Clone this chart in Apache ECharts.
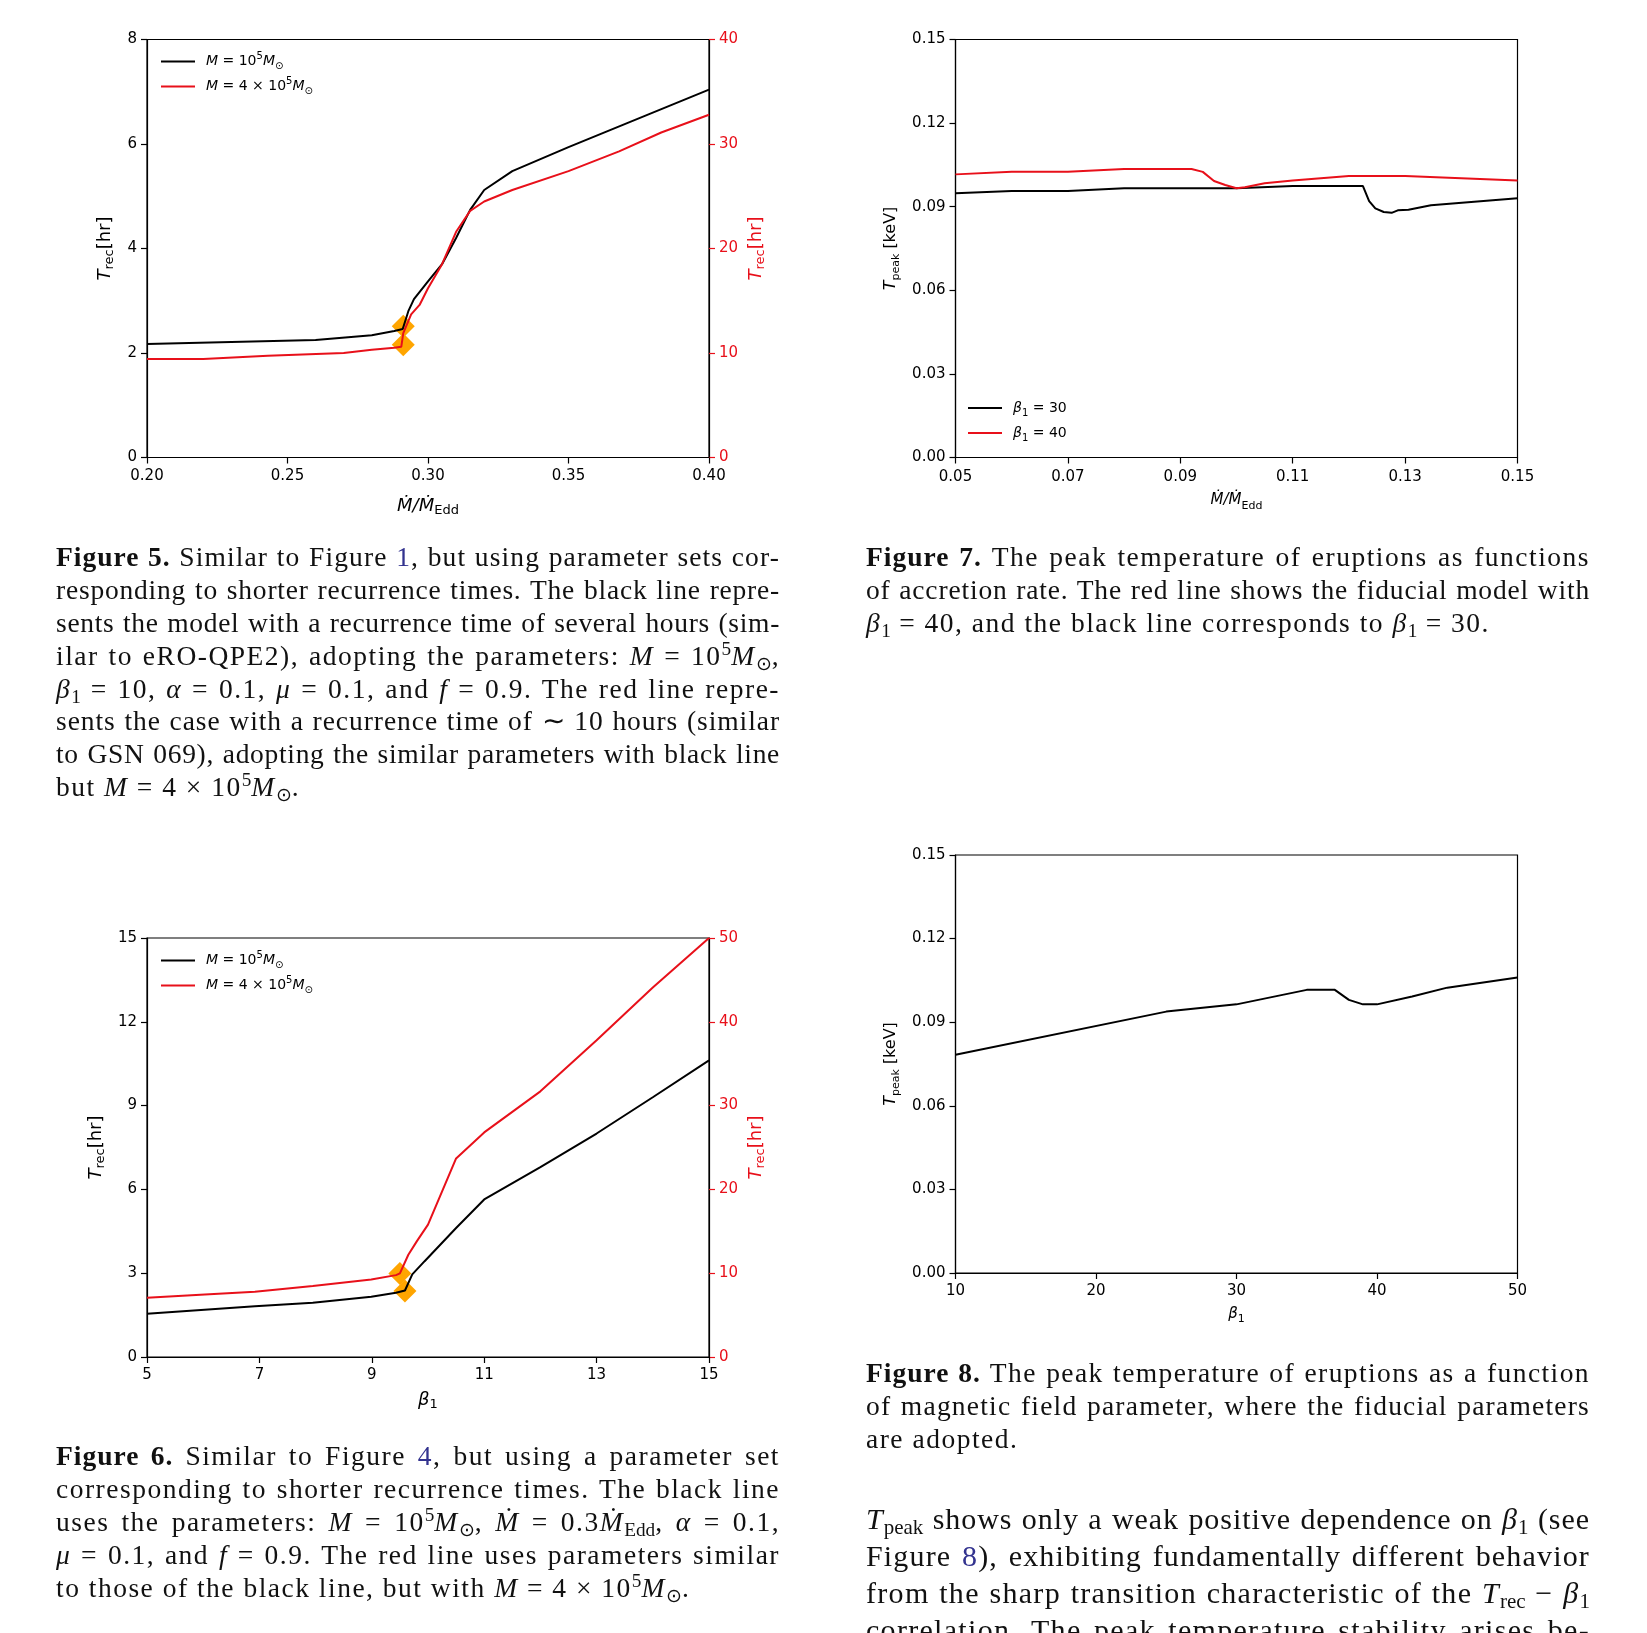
<!DOCTYPE html>
<html><head><meta charset="utf-8">
<script src="https://cdn.jsdelivr.net/npm/echarts@6/dist/echarts.min.js"></script>
<style>
html,body{margin:0;padding:0;background:#fff;width:1647px;height:1633px;overflow:hidden;}
#chart{position:absolute;left:0;top:0;width:1647px;height:1633px;}
.cap{position:absolute;width:724px;font-family:"Liberation Serif",serif;font-size:27.5px;color:#111;letter-spacing:1.5px;}
.cap .l{height:32.9px;line-height:32.9px;white-space:nowrap;text-align:justify;text-align-last:justify;}
.cap .l.last{text-align-last:left;}
.body{font-size:30px;letter-spacing:1.3px;}
.body .l{height:37px;line-height:37px;}
.cap b{font-weight:bold;letter-spacing:1px;}
.cap sup,.cap sub{font-size:70%;line-height:0;letter-spacing:0;}
.cap sup{vertical-align:0.5em;}
.cap sub{vertical-align:-0.25em;}
.lk{color:#33338f;}
</style>
</head><body>
<div id="chart"></div>

<div class="cap" style="left:56px;top:541px;">
<div class="l"><b>Figure 5.</b> Similar to Figure <span class="lk">1</span>, but using parameter sets cor-</div>
<div class="l">responding to shorter recurrence times. The black line repre-</div>
<div class="l">sents the model with a recurrence time of several hours (sim-</div>
<div class="l">ilar to eRO-QPE2), adopting the parameters: <i>M</i> = 10<sup>5</sup><i>M</i><sub>⊙</sub>,</div>
<div class="l"><i>β</i><sub>1</sub> = 10, <i>α</i> = 0.1, <i>μ</i> = 0.1, and <i>f</i> = 0.9. The red line repre-</div>
<div class="l">sents the case with a recurrence time of ∼ 10 hours (similar</div>
<div class="l">to GSN 069), adopting the similar parameters with black line</div>
<div class="l last">but <i>M</i> = 4 × 10<sup>5</sup><i>M</i><sub>⊙</sub>.</div>
</div>

<div class="cap" style="left:866px;top:541px;">
<div class="l"><b>Figure 7.</b> The peak temperature of eruptions as functions</div>
<div class="l">of accretion rate. The red line shows the fiducial model with</div>
<div class="l last"><i>β</i><sub>1</sub> = 40, and the black line corresponds to <i>β</i><sub>1</sub> = 30.</div>
</div>

<div class="cap" style="left:56px;top:1440px;">
<div class="l"><b>Figure 6.</b> Similar to Figure <span class="lk">4</span>, but using a parameter set</div>
<div class="l">corresponding to shorter recurrence times. The black line</div>
<div class="l">uses the parameters: <i>M</i> = 10<sup>5</sup><i>M</i><sub>⊙</sub>, <i>M&#775;</i> = 0.3<i>M&#775;</i><sub>Edd</sub>, <i>α</i> = 0.1,</div>
<div class="l"><i>μ</i> = 0.1, and <i>f</i> = 0.9. The red line uses parameters similar</div>
<div class="l last">to those of the black line, but with <i>M</i> = 4 × 10<sup>5</sup><i>M</i><sub>⊙</sub>.</div>
</div>

<div class="cap" style="left:866px;top:1357px;">
<div class="l"><b>Figure 8.</b> The peak temperature of eruptions as a function</div>
<div class="l">of magnetic field parameter, where the fiducial parameters</div>
<div class="l last">are adopted.</div>
</div>

<div class="cap body" style="left:866px;top:1500px;">
<div class="l"><i>T</i><sub>peak</sub> shows only a weak positive dependence on <i>β</i><sub>1</sub> (see</div>
<div class="l">Figure <span class="lk">8</span>), exhibiting fundamentally different behavior</div>
<div class="l">from the sharp transition characteristic of the <i>T</i><sub>rec</sub> − <i>β</i><sub>1</sub></div>
<div class="l">correlation. The peak temperature stability arises be-</div>
</div>

<script>
// ---------- DATA ----------
// Figure 5: T_rec vs Mdot/Mdot_Edd
const fig5BlackX = [0.200,0.230,0.260,0.280,0.288,0.291,0.293,0.295,0.300,0.305,0.310,0.315,0.320,0.330,0.350,0.400];
const fig5BlackY = [2.17,2.21,2.25,2.34,2.42,2.46,2.80,3.03,3.37,3.70,4.20,4.74,5.12,5.48,5.94,7.04];
const fig5RedX = [0.200,0.220,0.243,0.270,0.280,0.288,0.2905,0.2912,0.294,0.297,0.300,0.305,0.310,0.315,0.320,0.330,0.350,0.368,0.383,0.400];
const fig5RedY = [9.42,9.42,9.74,10.0,10.3,10.5,10.6,11.9,13.7,14.6,16.2,18.5,21.6,23.6,24.5,25.6,27.4,29.3,31.1,32.8];
const fig5MarkBlack = [0.2912, 2.51];
const fig5MarkRed = [0.2912, 10.8];
const fig5XTicks = [0.20,0.25,0.30,0.35,0.40];

// Figure 7: T_peak vs Mdot/Mdot_Edd
const fig7BlackX = [0.050,0.060,0.070,0.080,0.100,0.110,0.1225,0.1236,0.1247,0.1262,0.1276,0.1287,0.1306,0.1346,0.150];
const fig7BlackY = [0.0948,0.0956,0.0956,0.0966,0.0966,0.0974,0.0974,0.0920,0.0894,0.0881,0.0878,0.0887,0.0889,0.0905,0.0930];
const fig7RedX = [0.050,0.060,0.070,0.080,0.092,0.094,0.096,0.098,0.100,0.1015,0.105,0.110,0.120,0.130,0.140,0.150];
const fig7RedY = [0.1016,0.1025,0.1025,0.1035,0.1035,0.1025,0.0992,0.0978,0.0966,0.0970,0.0984,0.0994,0.1010,0.1010,0.1002,0.0994];
const fig7XTicks = [0.05,0.07,0.09,0.11,0.13,0.15];

// Figure 6: T_rec vs beta_1
const fig6BlackX = [5,6.92,7.95,8.99,9.43,9.59,9.72,9.94,10.5,11,12,13,14,15];
const fig6BlackY = [1.55,1.82,1.94,2.16,2.30,2.38,2.96,3.43,4.62,5.64,6.8,8.0,9.3,10.62];
const fig6RedX = [5,6.03,6.92,7.95,8.99,9.43,9.5,9.65,9.8,10.0,10.5,11.0,12,13,14,15];
const fig6RedY = [7.07,7.47,7.79,8.46,9.26,9.77,9.97,12.2,13.8,15.8,23.7,26.8,31.7,37.8,44.1,50];
const fig6MarkRed = [9.50, 9.97];
const fig6MarkBlack = [9.59, 2.36];
const fig6XTicks = [5,7,9,11,13,15];

// Figure 8: T_peak vs beta_1
const fig8X = [10,25,30,35,37,38,39,40,42.5,45,50];
const fig8Y = [0.0783,0.0938,0.0964,0.1016,0.1016,0.0980,0.0964,0.0964,0.0992,0.1024,0.1060];
const fig8XTicks = [10,20,30,40,50];

const legendLabels = {
  f5b: '{i|M}{n| = 10}{sp|5}{i|M}{sb|⊙}',
  f5r: '{i|M}{n| = 4 × 10}{sp|5}{i|M}{sb|⊙}',
  f6b: '{i|M}{n| = 10}{sp|5}{i|M}{sb|⊙}',
  f6r: '{i|M}{n| = 4 × 10}{sp|5}{i|M}{sb|⊙}',
  f7b: '{i|β}{sb|1}{n| = 30}',
  f7r: '{i|β}{sb|1}{n| = 40}'
};

// ---------- caption line fitting (text stays real text) ----------
function fitLines() {
  document.querySelectorAll('.cap .l').forEach(el => {
    const isLast = el.classList.contains('last');
    el.style.letterSpacing = '';
    el.style.textAlignLast = 'left';
    let span = el.querySelector(':scope > span.m');
    if (!span) {
      span = document.createElement('span');
      span.className = 'm';
      while (el.firstChild) span.appendChild(el.firstChild);
      el.appendChild(span);
    }
    const w = span.getBoundingClientRect().width;
    const target = el.clientWidth;
    if (!isLast && w > target - 6) {
      const n = span.textContent.length;
      const ls = parseFloat(getComputedStyle(el).letterSpacing) || 0;
      el.style.letterSpacing = (ls - (w - target + 10) / n) + 'px';
    }
    if (!isLast) el.style.textAlignLast = 'justify';
  });
}
fitLines();
if (document.fonts && document.fonts.ready) document.fonts.ready.then(fitLines);

// ---------- STYLE ----------
const F = 'DejaVu Sans';
const BLACK = '#000000', RED = '#e8101a', ORANGE = '#FFA500';
function rich(size, color, lh) {
  const s = Math.round(size * 0.7);
  return {
    n:  {fontFamily:F, fontSize:size, color:color, lineHeight:lh},
    i:  {fontFamily:F, fontSize:size, color:color, lineHeight:lh, fontStyle:'italic'},
    sb: {fontFamily:F, fontSize:s, color:color, lineHeight:Math.round(lh/2), verticalAlign:'bottom'},
    sp: {fontFamily:F, fontSize:s, color:color, lineHeight:Math.round(lh/2), verticalAlign:'top'}
  };
}
function zip(a, b) { return a.map((v, k) => [v, b[k]]); }
function fmt(d) { return v => (+v).toFixed(d); }

function xAxisCfg(grid, min, max, ticks, dec, name, nsize, gap, margin) {
  return {
    type:'value', gridIndex:grid, min:min, max:max,
    splitLine:{show:false},
    axisLine:{show:true, onZero:false, lineStyle:{color:BLACK, width:1.2}},
    axisTick:{show:true, inside:false, length:6, lineStyle:{color:BLACK, width:1.2}, customValues:ticks},
    axisLabel:{customValues:ticks, formatter:fmt(dec), fontFamily:F, fontSize:15, color:BLACK, margin:margin},
    name:name, nameLocation:'middle', nameGap:gap,
    nameTextStyle:{rich:rich(nsize, BLACK, 22), fontFamily:F, fontSize:nsize, lineHeight:22}
  };
}
function yAxisCfg(grid, min, max, interval, dec, pos, color, name, nsize, gap) {
  return {
    type:'value', gridIndex:grid, min:min, max:max, interval:interval, position:pos,
    splitLine:{show:false},
    axisLine:{show:true, onZero:false, lineStyle:{color:BLACK, width:1.2}},
    axisTick:{show:true, inside:false, length:6, lineStyle:{color:color, width:1.2}},
    axisLabel:{formatter:fmt(dec), fontFamily:F, fontSize:15, color:color, margin:10},
    name:name, nameLocation:'middle', nameGap:gap, nameRotate:90,
    nameTextStyle:{rich:rich(nsize, color, 22), fontFamily:F, fontSize:nsize, lineHeight:22}
  };
}
function lineSeries(name, xi, yi, xs, ys, color) {
  return {
    name:name, type:'line', xAxisIndex:xi, yAxisIndex:yi, data:zip(xs, ys),
    symbol:'none', showSymbol:false, smooth:false, z:3,
    color:color, itemStyle:{color:color},
    lineStyle:{color:color, width:2}
  };
}
function marker(xi, yi, pt) {
  return {
    type:'scatter', xAxisIndex:xi, yAxisIndex:yi, data:[pt],
    symbol:'diamond', symbolSize:23, z:1, silent:true,
    itemStyle:{color:ORANGE, opacity:1}
  };
}
function legendCfg(left, top, names) {
  return {
    orient:'vertical', left:left, top:top, itemWidth:34, itemHeight:2, icon:'rect',
    itemGap:5, data:names, selectedMode:false,
    formatter:n => legendLabels[n],
    textStyle:{rich:rich(14, BLACK, 20), fontFamily:F, fontSize:14, lineHeight:20, padding:[0,0,0,6]}
  };
}

const chart = echarts.init(document.getElementById('chart'), null, {renderer:'canvas'});
const gridStyle = {show:true, borderColor:BLACK, borderWidth:1.2, backgroundColor:'transparent', containLabel:false};

const NAME_TREC = '{i|T}{sb|rec}{n|[hr]}';
const NAME_MDOT = '{i|Ṁ/Ṁ}{sb|Edd}';
const NAME_TPEAK = '{i|T}{sb|peak}{n| [keV]}';
const NAME_BETA = '{i|β}{sb|1}';

chart.setOption({
  animation:false,
  backgroundColor:'#ffffff',
  grid:[
    Object.assign({left:147, top:39.5, width:562, height:418}, gridStyle),
    Object.assign({left:955.5, top:39.5, width:562, height:418}, gridStyle),
    Object.assign({left:147, top:938, width:562, height:419}, gridStyle),
    Object.assign({left:955.5, top:855, width:562, height:418}, gridStyle)
  ],
  xAxis:[
    xAxisCfg(0, 0.2, 0.4, fig5XTicks, 2, NAME_MDOT, 18, 38, 11),
    xAxisCfg(1, 0.05, 0.15, fig7XTicks, 2, NAME_MDOT, 15, 32, 12),
    xAxisCfg(2, 5, 15, fig6XTicks, 0, NAME_BETA, 18, 32, 11),
    xAxisCfg(3, 10, 50, fig8XTicks, 0, NAME_BETA, 15, 30, 11)
  ],
  yAxis:[
    yAxisCfg(0, 0, 8, 2, 0, 'left', BLACK, NAME_TREC, 18, 31),
    yAxisCfg(0, 0, 40, 10, 0, 'right', RED, NAME_TREC, 18, 36),
    yAxisCfg(1, 0, 0.15, 0.03, 2, 'left', BLACK, NAME_TPEAK, 16, 54),
    yAxisCfg(2, 0, 15, 3, 0, 'left', BLACK, NAME_TREC, 18, 40),
    yAxisCfg(2, 0, 50, 10, 0, 'right', RED, NAME_TREC, 18, 36),
    yAxisCfg(3, 0, 0.15, 0.03, 2, 'left', BLACK, NAME_TPEAK, 16, 54)
  ],
  legend:[
    legendCfg(156, 46.5, ['f5b','f5r']),
    legendCfg(963, 393, ['f7b','f7r']),
    legendCfg(156, 945.5, ['f6b','f6r'])
  ],
  series:[
    marker(0, 0, fig5MarkBlack),
    marker(0, 1, fig5MarkRed),
    lineSeries('f5b', 0, 0, fig5BlackX, fig5BlackY, BLACK),
    lineSeries('f5r', 0, 1, fig5RedX, fig5RedY, RED),
    lineSeries('f7b', 1, 2, fig7BlackX, fig7BlackY, BLACK),
    lineSeries('f7r', 1, 2, fig7RedX, fig7RedY, RED),
    marker(2, 4, fig6MarkRed),
    marker(2, 3, fig6MarkBlack),
    lineSeries('f6b', 2, 3, fig6BlackX, fig6BlackY, BLACK),
    lineSeries('f6r', 2, 4, fig6RedX, fig6RedY, RED),
    lineSeries('f8', 3, 5, fig8X, fig8Y, BLACK)
  ]
});
</script>
</body></html>
